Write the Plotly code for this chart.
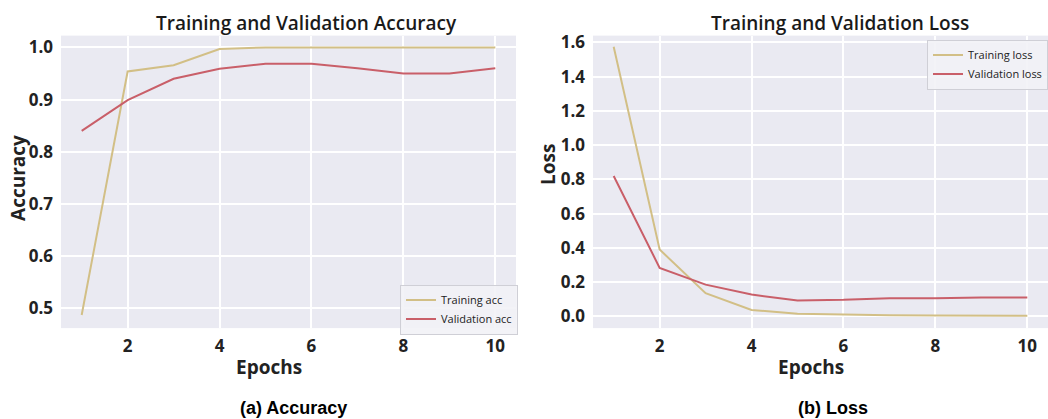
import plotly.graph_objects as go

# Training history over 10 epochs
epochs = [1, 2, 3, 4, 5, 6, 7, 8, 9, 10]
train_acc = [0.487, 0.954, 0.966, 0.997, 1.0, 1.0, 1.0, 1.0, 1.0, 1.0]
val_acc = [0.840, 0.899, 0.940, 0.959, 0.969, 0.969, 0.960, 0.950, 0.950, 0.960]
train_loss = [1.575, 0.390, 0.135, 0.037, 0.015, 0.009, 0.006, 0.005, 0.004, 0.003]
val_loss = [0.820, 0.283, 0.185, 0.127, 0.092, 0.096, 0.106, 0.105, 0.110, 0.110]
x_ticks = [2, 4, 6, 8, 10]
acc_ticks = [0.5, 0.6, 0.7, 0.8, 0.9, 1.0]
loss_ticks = [0.0, 0.2, 0.4, 0.6, 0.8, 1.0, 1.2, 1.4, 1.6]

TRAIN_COLOR = "#d2bf86"
VAL_COLOR = "#c95f69"
BG = "#eaeaf2"
TXT = "#222222"
W, H = 1048, 419

fig = go.Figure()
fig.add_trace(go.Scatter(x=epochs, y=train_acc, mode="lines", name="Training acc",
                         line=dict(color=TRAIN_COLOR, width=2), xaxis="x", yaxis="y", legend="legend"))
fig.add_trace(go.Scatter(x=epochs, y=val_acc, mode="lines", name="Validation acc",
                         line=dict(color=VAL_COLOR, width=2), xaxis="x", yaxis="y", legend="legend"))
fig.add_trace(go.Scatter(x=epochs, y=train_loss, mode="lines", name="Training loss",
                         line=dict(color=TRAIN_COLOR, width=2), xaxis="x2", yaxis="y2", legend="legend2"))
fig.add_trace(go.Scatter(x=epochs, y=val_loss, mode="lines", name="Validation loss",
                         line=dict(color=VAL_COLOR, width=2), xaxis="x2", yaxis="y2", legend="legend2"))

tick_font = dict(family="Open Sans", size=17, color=TXT, weight=700)
ydom = [(H - 327) / H, (H - 31) / H]

common_x = dict(range=[0.55, 10.45], tickvals=x_ticks, showgrid=True, gridcolor="white",
                gridwidth=2, zeroline=False, showline=False, ticks="", tickfont=tick_font,
                ticklabelstandoff=6)
common_y = dict(showgrid=True, gridcolor="white", gridwidth=2, zeroline=False,
                showline=False, ticks="", tickfont=tick_font, ticklabelstandoff=7)

legend_common = dict(bgcolor="rgba(242,242,246,0.9)", bordercolor="#cfcfd6", borderwidth=1,
                     font=dict(family="Open Sans", size=11, color=TXT), itemwidth=30,
                     tracegroupgap=0)

fig.update_layout(
    width=W, height=H,
    margin=dict(l=0, r=0, t=0, b=0),
    paper_bgcolor="white", plot_bgcolor=BG,
    xaxis=dict(domain=[61 / W, 516 / W], anchor="y", **common_x),
    yaxis=dict(domain=ydom, anchor="x", range=[0.462, 1.0227], tickvals=acc_ticks,
               tickformat=".1f", **common_y),
    xaxis2=dict(domain=[593 / W, 1.0], anchor="y2", **common_x),
    yaxis2=dict(domain=ydom, anchor="x2", range=[-0.069, 1.640], tickvals=loss_ticks,
                tickformat=".1f", **common_y),
    legend=dict(x=518 / W, y=(H - 283) / H, xanchor="right", yanchor="top", **legend_common),
    legend2=dict(x=1.0, y=(H - 35) / H, xanchor="right", yanchor="top", **legend_common),
    showlegend=True,
)

title_font = dict(family="Open Sans", size=19, color="#1a1a1a", weight=600)
label_font = dict(family="Open Sans", size=19, color=TXT, weight=700)
caption_font = dict(family="Liberation Sans", size=18, color="black", weight="bold")

annotations = [
    dict(text="Training and Validation Accuracy", x=306 / W, y=(H - 18) / H, font=title_font),
    dict(text="Training and Validation Loss", x=840 / W, y=(H - 18) / H, font=title_font),
    dict(text="Epochs", x=269 / W, y=(H - 366) / H, font=label_font),
    dict(text="Epochs", x=811 / W, y=(H - 366) / H, font=label_font),
    dict(text="Accuracy", x=18 / W, y=(H - 175) / H, font=label_font, textangle=-90),
    dict(text="Loss", x=548 / W, y=(H - 162) / H, font=label_font, textangle=-90),
    dict(text="(a) Accuracy", x=293 / W, y=(H - 408) / H, font=caption_font),
    dict(text="(b) Loss", x=833 / W, y=(H - 408) / H, font=caption_font),
]
for a in annotations:
    fig.add_annotation(xref="paper", yref="paper", xanchor="center", yanchor="middle",
                       showarrow=False, **a)

fig.write_html("out.html")
